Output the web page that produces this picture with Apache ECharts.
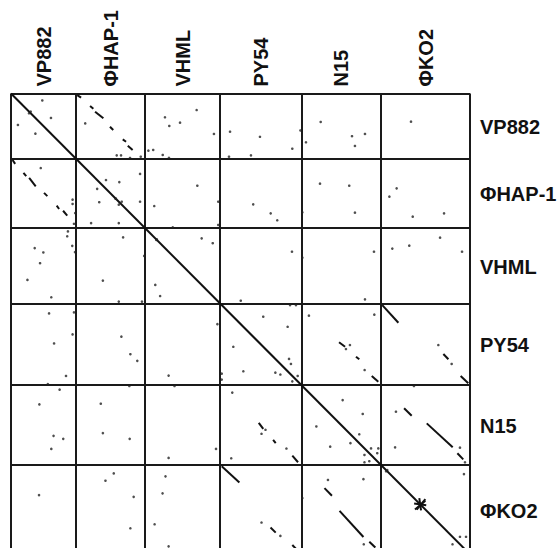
<!DOCTYPE html>
<html>
<head>
<meta charset="utf-8">
<script src="https://cdn.jsdelivr.net/npm/echarts@6/dist/echarts.min.js"></script>
<style>
  html, body { margin: 0; padding: 0; background: #fff; }
  #chart { width: 558px; height: 548px; }
</style>
</head>
<body>
<div id="chart"></div>
<script>
// Genomes compared (same order on both axes) and their lengths in kb
const genomes = ['VP882', 'ΦHAP-1', 'VHML', 'PY54', 'N15', 'ΦKO2'];
const genomeLengthsKb = [37.6, 39.9, 43.4, 47.0, 46.1, 51.3];

// Isolated matches [x kb, y kb] (upper triangle; the all-vs-all matrix is symmetric)
const matchPoints = [
  [18.1, 4.0], [11.4, 10.4], [23.1, 14.1],
  [42.9, 17.2], [61.1, 35.6], [63.6, 35.6], [68.8, 37.1], [75.0, 36.4],
  [89.0, 13.7], [91.5, 18.7], [97.7, 16.8], [107.3, 9.5], [117.3, 23.3],
  [79.4, 32.9], [82.2, 32.5], [87.7, 35.4], [91.3, 37.0],
  [126.6, 22.0], [143.9, 24.9], [126.0, 36.4], [138.7, 35.6], [162.6, 31.8], [167.3, 21.3],
  [179.0, 16.4], [197.1, 24.6], [204.6, 23.3], [170.5, 28.1], [198.8, 30.2],
  [231.2, 16.2],
  [54.9, 49.8], [62.6, 51.0], [74.6, 46.3], [64.0, 62.3], [74.6, 62.3], [60.5, 60.6],
  [82.8, 64.8], [93.5, 77.0], [107.7, 53.1], [119.8, 62.3], [119.8, 75.7],
  [140.0, 63.8], [150.1, 69.0], [153.9, 73.0],
  [178.6, 51.9], [195.5, 53.1], [198.8, 68.6], [168.4, 68.4],
  [222.9, 54.6], [218.7, 59.4], [232.2, 70.9], [250.3, 69.0],
  [84.3, 84.0], [110.2, 83.4], [116.6, 86.2],
  [162.4, 91.1], [132.8, 119.3],
  [168.4, 94.5], [209.8, 91.1], [204.6, 118.5],
  [220.4, 89.3], [230.2, 87.6], [248.0, 83.0], [260.7, 91.1],
  [145.8, 128.5], [159.9, 134.3], [160.7, 152.8], [161.8, 155.7], [165.7, 162.6],
  [161.3, 121.8], [164.7, 121.8],
  [172.2, 127.9], [210.0, 127.3], [195.9, 144.8], [193.6, 147.1], [204.4, 159.2],
  [247.0, 144.8], [254.7, 155.7],
  [191.7, 176.5], [203.3, 184.5], [201.3, 196.2], [208.1, 204.3], [212.3, 204.3], [211.7, 207.1],
  [222.5, 183.2], [222.0, 203.7], [259.5, 203.9], [262.4, 212.3], [232.9, 168.4],
  [261.8, 219.1], [217.5, 216.8], [259.5, 255.2], [263.0, 255.2]
];

// Runs of consecutive matches [x1, y1, x2, y2] in kb (upper triangle)
const matchRuns = [
  [38.3, 0.9, 40.5, 2.4], [45.7, 7.2, 47.6, 8.8], [48.6, 10.5, 53.4, 14.3],
  [57.2, 19.1, 59.1, 21.0], [64.6, 26.4, 66.5, 27.8], [67.5, 30.1, 70.3, 32.5],
  [189.6, 143.2, 193.1, 145.8], [199.4, 151.5, 201.3, 153.0], [208.5, 162.6, 212.3, 165.9],
  [214.6, 121.8, 223.9, 132.0], [249.9, 150.0, 252.8, 153.0], [259.9, 162.6, 264.3, 166.8],
  [227.2, 181.2, 231.6, 185.5], [240.3, 189.9, 255.3, 203.7], [258.0, 207.1, 261.4, 210.6],
  [233.5, 239.5, 239.5, 234.5], [236.0, 233.0, 237.0, 240.0]
];

// ---- derived structures ----
const bounds = [0];
genomeLengthsKb.forEach(l => bounds.push(+(bounds[bounds.length - 1] + l).toFixed(2)));
const totalKb = bounds[bounds.length - 1];
const centers = genomeLengthsKb.map((l, i) => bounds[i] + l / 2);

const pointData = [];
matchPoints.forEach(p => { pointData.push([p[0], p[1]]); pointData.push([p[1], p[0]]); });

const runData = [];
matchRuns.forEach(r => {
  runData.push({ coords: [[r[0], r[1]], [r[2], r[3]]] });
  runData.push({ coords: [[r[1], r[0]], [r[3], r[2]]] });
});
runData.push({ coords: [[0, 0], [totalKb, totalKb]] });

const borderData = [];
bounds.forEach(b => {
  borderData.push({ coords: [[b, 0], [b, totalKb]] });
  borderData.push({ coords: [[0, b], [totalKb, b]] });
});

const GRID_TOP = 93.5, GRID_LEFT = 11, GRID_W = 459, GRID_H = 454.5;
const yVisibleMax = +(totalKb * (GRID_H / GRID_W) / 1.004).toFixed(2);

const FONT = 'bold 20px "Liberation Sans", Arial, sans-serif';

const chart = echarts.init(document.getElementById('chart'), null, { renderer: 'svg' });
chart.setOption({
  animation: false,
  backgroundColor: '#ffffff',
  grid: { left: GRID_LEFT, top: GRID_TOP, width: GRID_W, height: GRID_H, containLabel: false },
  xAxis: {
    type: 'value', min: 0, max: totalKb, show: false
  },
  yAxis: {
    type: 'value', min: 0, max: yVisibleMax, inverse: true, show: false
  },
  series: [
    {
      type: 'lines', coordinateSystem: 'cartesian2d', clip: false, silent: true,
      data: borderData,
      lineStyle: { color: '#1a1a1a', width: 2, opacity: 1 }
    },
    {
      type: 'lines', coordinateSystem: 'cartesian2d', clip: true, silent: true,
      data: runData,
      lineStyle: { color: '#111', width: 2, opacity: 1 }
    },
    {
      type: 'scatter', clip: true, silent: true,
      data: pointData, symbol: 'circle', symbolSize: 2.6,
      itemStyle: { color: '#222' }
    },
    {
      type: 'custom', silent: true,
      data: centers.map((c, i) => [c, i]),
      renderItem: function (params, api) {
        const i = api.value(1);
        const top = api.coord([api.value(0), 0]);
        const right = api.coord([totalKb, api.value(0)]);
        return {
          type: 'group',
          children: [
            {
              type: 'text', x: top[0], y: top[1] - 7, rotation: Math.PI / 2,
              style: { text: genomes[i], x: 0, y: 0, fill: '#111', font: FONT,
                       align: 'left', verticalAlign: 'middle',
                       textAlign: 'left', textVerticalAlign: 'middle' }
            },
            {
              type: 'text', x: right[0] + 10, y: right[1] + 1,
              style: { text: genomes[i], x: 0, y: 0, fill: '#111', font: FONT,
                       align: 'left', verticalAlign: 'middle',
                       textAlign: 'left', textVerticalAlign: 'middle' }
            }
          ]
        };
      }
    }
  ]
});
</script>
</body>
</html>
